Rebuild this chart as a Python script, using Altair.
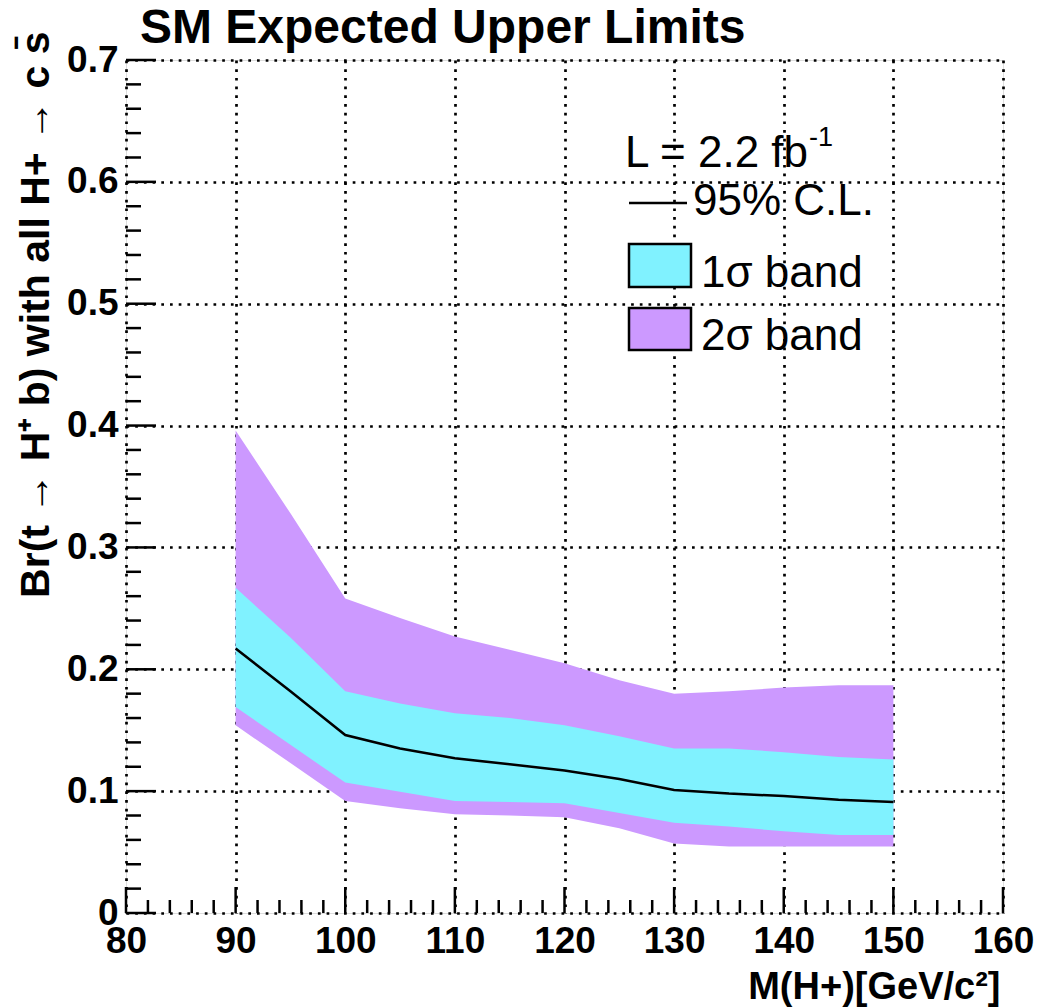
import altair as alt
import pandas as pd

# ---- data ----
mass = [90, 95, 100, 105, 110, 115, 120, 125, 130, 135, 140, 145, 150]
median = [0.217, 0.182, 0.146, 0.135, 0.127, 0.122, 0.117, 0.110, 0.101, 0.098, 0.096, 0.093, 0.091]
hi1 = [0.267, 0.226, 0.182, 0.172, 0.164, 0.160, 0.154, 0.145, 0.135, 0.135, 0.132, 0.128, 0.126]
lo1 = [0.169, 0.138, 0.107, 0.0995, 0.092, 0.091, 0.090, 0.082, 0.074, 0.071, 0.067, 0.064, 0.064]
hi2 = [0.396, 0.328, 0.258, 0.242, 0.227, 0.216, 0.205, 0.191, 0.180, 0.182, 0.185, 0.187, 0.187]
lo2 = [0.154, 0.123, 0.092, 0.086, 0.081, 0.080, 0.0785, 0.0695, 0.057, 0.0545, 0.0545, 0.0545, 0.0545]

x_major = [80, 90, 100, 110, 120, 130, 140, 150, 160]
x_minor = [v for v in range(82, 160, 2) if v % 10 != 0]
y_major = [0.0, 0.1, 0.2, 0.3, 0.4, 0.5, 0.6, 0.7]
y_minor = [round(0.02 * i, 2) for i in range(1, 35) if i % 5 != 0]

title_text = "SM Expected Upper Limits"
y_title = "Br(t \u2192 H\u207a b) with all H+ \u2192 c s\u0304"
x_title = "M(H+)[GeV/c\u00b2]"
legend_lumi = "L = 2.2 fb"
legend_lumi_sup = "-1"
legend_line = "95% C.L."
legend_1s = "1\u03c3 band"
legend_2s = "2\u03c3 band"

CYAN = "#80F2FF"
PURPLE = "#CC99FF"
FONT = "Liberation Sans"
W, H = 877, 853

df = pd.DataFrame({"mass": mass, "median": median, "hi1": hi1, "lo1": lo1, "hi2": hi2, "lo2": lo2})

xs = alt.Scale(domain=[80, 160], nice=False, zero=False)
ys = alt.Scale(domain=[0, 0.7], nice=False)

x_axis = alt.Axis(
    values=x_major, labelFontSize=37, labelFontWeight="bold", labelFont=FONT,
    labelColor="black", labelBaseline="alphabetic", labelPadding=39,
    labelFlush=False, labelOverlap=False, ticks=False, tickSize=0, domain=False,
    grid=True, gridColor="black", gridDash=[2.7, 6], gridWidth=2.7, gridOpacity=1,
    title=x_title, titleFontSize=38, titleFontWeight="bold", titleFont=FONT,
    titleColor="black", titleX=874, titleY=85, titleAlign="right",
    titleBaseline="alphabetic", titleAnchor="end",
)
y_axis = alt.Axis(
    values=y_major, labelExpr="datum.value == 0 ? '0' : format(datum.value, '.1f')",
    labelFontSize=37, labelFontWeight="bold", labelFont=FONT, labelColor="black",
    labelPadding=8, labelBaseline="middle", labelFlush=False, labelOverlap=False,
    ticks=False, tickSize=0, domain=False,
    grid=True, gridColor="black", gridDash=[2.7, 6], gridWidth=2.7, gridOpacity=1,
    title=y_title, titleFontSize=41, titleFontWeight="bold", titleFont=FONT,
    titleColor="black", titleAngle=270, titleX=-78, titleY=-29, titleAlign="right",
    titleBaseline="alphabetic",
)

base = alt.Chart(df)

band2 = base.mark_area(color=PURPLE, opacity=1).encode(
    x=alt.X("mass:Q", scale=xs, axis=x_axis),
    y=alt.Y("lo2:Q", scale=ys, axis=y_axis),
    y2="hi2:Q",
)
band1 = base.mark_area(color=CYAN, opacity=1).encode(
    x=alt.X("mass:Q", scale=xs), y=alt.Y("lo1:Q", scale=ys), y2="hi1:Q"
)
line = base.mark_line(color="black", strokeWidth=2.5).encode(
    x=alt.X("mass:Q", scale=xs), y=alt.Y("median:Q", scale=ys)
)

# inward ROOT-style ticks
xmaj = alt.Chart(pd.DataFrame({"v": x_major})).mark_rule(color="black", strokeWidth=2.5).encode(
    x=alt.X("v:Q", scale=xs), y=alt.value(H), y2=alt.value(H - 26))
xmin = alt.Chart(pd.DataFrame({"v": x_minor})).mark_rule(color="black", strokeWidth=2.5).encode(
    x=alt.X("v:Q", scale=xs), y=alt.value(H), y2=alt.value(H - 13))
ymaj = alt.Chart(pd.DataFrame({"v": y_major})).mark_rule(color="black", strokeWidth=2.5).encode(
    y=alt.Y("v:Q", scale=ys), x=alt.value(0), x2=alt.value(30))
ymin = alt.Chart(pd.DataFrame({"v": y_minor})).mark_rule(color="black", strokeWidth=2.5).encode(
    y=alt.Y("v:Q", scale=ys), x=alt.value(0), x2=alt.value(15))

# text helper
def txt(s, x, y, size=44, weight="normal"):
    return alt.Chart(pd.DataFrame({"t": [s]})).mark_text(
        align="left", baseline="alphabetic", font=FONT, fontSize=size,
        fontWeight=weight, color="black"
    ).encode(text="t:N", x=alt.value(x), y=alt.value(y))

title_mark = txt(title_text, 14, -17, 48, "bold")

leg_lumi = txt(legend_lumi, 499, 107)
leg_sup = txt(legend_lumi_sup, 683, 86, 27)
leg_line_sample = alt.Chart(pd.DataFrame({"t": [legend_line]})).mark_rule(color="black", strokeWidth=2.5).encode(
    x=alt.value(503), x2=alt.value(561), y=alt.value(143))
leg_line_txt = txt(legend_line, 567, 155)
box1 = alt.Chart(pd.DataFrame({"t": [legend_1s]})).mark_rect(fill=CYAN, stroke="black", strokeWidth=2.5).encode(
    x=alt.value(503), x2=alt.value(565), y=alt.value(184), y2=alt.value(227))
leg_1s = txt(legend_1s, 575, 227)
box2 = alt.Chart(pd.DataFrame({"t": [legend_2s]})).mark_rect(fill=PURPLE, stroke="black", strokeWidth=2.5).encode(
    x=alt.value(503), x2=alt.value(565), y=alt.value(248), y2=alt.value(290))
leg_2s = txt(legend_2s, 575, 290)

chart = alt.layer(
    band2, band1, line, xmaj, xmin, ymaj, ymin, title_mark,
    leg_lumi, leg_sup, leg_line_sample, leg_line_txt, box1, leg_1s, box2, leg_2s,
).properties(
    width=W, height=H,
    autosize=alt.AutoSizeParams(type="none"),
    padding={"left": 126, "top": 60, "right": 35, "bottom": 95},
).configure_view(stroke="black", strokeWidth=3).configure(background="white")

chart.save("out.html", embed_options={"renderer": "svg", "actions": False})
